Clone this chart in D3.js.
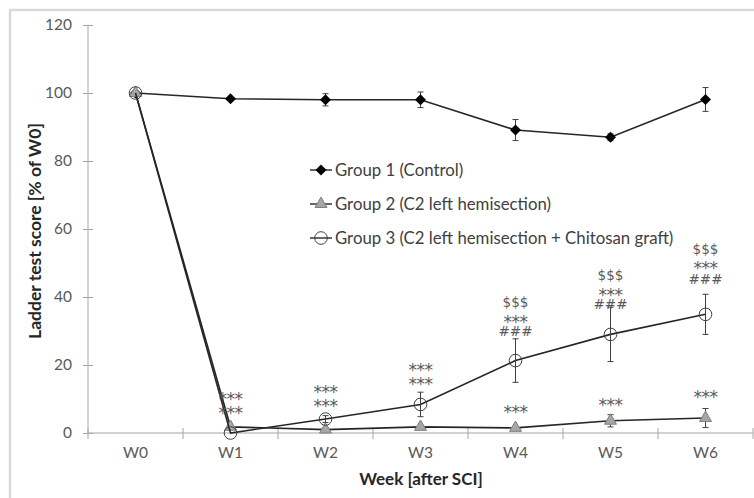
<!DOCTYPE html>
<html><head><meta charset="utf-8">
<script src="https://cdnjs.cloudflare.com/ajax/libs/d3/7.8.5/d3.min.js"></script>
<style>body{margin:0;background:#fff}svg{display:block}text{font-family:Lato,"Open Sans",sans-serif}</style>
</head><body><svg id="c" width="754" height="498"></svg>
<script>
const weeks = ["W0","W1","W2","W3","W4","W5","W6"];
const yTicks = [0,20,40,60,80,100,120];
const seriesNames = ["Group 1 (Control)","Group 2 (C2 left hemisection)","Group 3 (C2 left hemisection + Chitosan graft)"];
const group1 = [100, 98.3, 98.0, 98.0, 89.1, 87.0, 98.1];
const group1Err = [0, 0, 1.8, 2.3, 3.1, 1.0, 3.5];
const group2 = [100, 1.8, 1.0, 1.8, 1.5, 3.6, 4.4];
const group2Err = [0, 0, 0, 0, 0, 1.8, 2.8];
const group3 = [100, 0, 4.1, 8.4, 21.3, 29.0, 34.9];
const group3Err = [0, 0, 1.0, 3.6, 6.4, 8.0, 5.9];
const annoWeek = ["W1","W1","W2","W2","W3","W3","W4","W4","W4","W4","W5","W5","W5","W5","W6","W6","W6","W6"];
const annoText = ["***","***","***","***","***","***","$$$","***","###","***","$$$","***","###","***","$$$","***","###","***"];
const annoValue = [11.2,7.1,13.3,9.0,19.7,15.6,38.6,33.7,29.8,7.3,46.5,41.8,37.9,9.5,54.1,49.6,45.2,11.9];

const svg = d3.select("#c");
const x = d3.scaleBand().domain(weeks).range([88, 753]).paddingInner(0).paddingOuter(0);
const y = d3.scaleLinear().domain([0,120]).range([433, 25]);
const cx = w => x(w) + x.bandwidth()/2;

// outer frame
svg.append("rect").attr("x",10).attr("y",10).attr("width",760).attr("height",500)
  .attr("fill","none").attr("stroke","#d9d9d9").attr("stroke-width",2.5);

// y axis
const ya = svg.append("g").attr("transform","translate(88,0)")
  .call(d3.axisLeft(y).tickValues(yTicks).tickSize(5).tickPadding(11));
ya.select(".domain").attr("stroke","#a6a6a6").attr("d","M0,25V433");
ya.selectAll(".tick line").attr("stroke","#a6a6a6").attr("x1",5);
ya.selectAll(".tick text").attr("fill","#595959").style("font-size","15.5px").style("font-family","Lato");

// x axis
const xa = svg.append("g").attr("transform","translate(0,433)")
  .call(d3.axisBottom(x).tickSize(0).tickPadding(14));
xa.select(".domain").attr("stroke","#a6a6a6").attr("d","M88,0H753");
xa.selectAll(".tick text").attr("fill","#595959").style("font-size","15.5px").style("font-family","Lato");
const bounds = weeks.map(w => x(w)).concat([x(weeks[weeks.length-1]) + x.bandwidth()]);
svg.append("g").selectAll("line").data(bounds).join("line")
  .attr("x1",d=>d).attr("x2",d=>d).attr("y1",428).attr("y2",439).attr("stroke","#a6a6a6");

// axis titles
svg.append("text").attr("transform","translate(41,231) rotate(-90)").attr("text-anchor","middle")
  .style("font-size","17.5px").style("font-weight","bold").attr("fill","#262626").text("Ladder test score [% of W0]");
svg.append("text").attr("x",421).attr("y",485).attr("text-anchor","middle")
  .style("font-size","17px").style("font-weight","bold").attr("fill","#262626").text("Week [after SCI]");

const lineGen = d3.line().x((d,i)=>cx(weeks[i])).y(d=>y(d));
const seriesData = [
  {vals:group1, err:group1Err, type:"diamond"},
  {vals:group2, err:group2Err, type:"triangle"},
  {vals:group3, err:group3Err, type:"circle"}
];
const diamond = d3.symbol().type(d3.symbolSquare).size(60);
const triangle = d3.symbol().type(d3.symbolTriangle).size(62);
function drawMarker(g, type, px, py){
  if(type==="diamond") g.append("path").attr("d",diamond()).attr("transform",`translate(${px},${py}) rotate(45)`).attr("fill","#000");
  else if(type==="triangle") g.append("path").attr("d",triangle()).attr("transform",`translate(${px},${py})`).attr("fill","#a6a6a6").attr("stroke","#7f7f7f").attr("stroke-width",1);
  else g.append("circle").attr("cx",px).attr("cy",py).attr("r",6.3).attr("fill","none").attr("stroke","#404040").attr("stroke-width",1);
}
seriesData.forEach(s=>{
  const g = svg.append("g");
  g.append("path").attr("d",lineGen(s.vals)).attr("fill","none").attr("stroke","#262626").attr("stroke-width",1.6);
  s.vals.forEach((v,i)=>{
    const e = s.err[i];
    if(e>0){
      const px = cx(weeks[i]);
      g.append("line").attr("x1",px).attr("x2",px).attr("y1",y(v+e)).attr("y2",y(v-e)).attr("stroke","#404040").attr("stroke-width",1);
      [v+e,v-e].forEach(t=>g.append("line").attr("x1",px-3).attr("x2",px+3).attr("y1",y(t)).attr("y2",y(t)).attr("stroke","#404040").attr("stroke-width",1));
    }
  });
  s.vals.forEach((v,i)=>drawMarker(g, s.type, cx(weeks[i]), y(v)));
});

// annotations
svg.append("g").selectAll("text").data(annoText).join("text")
  .attr("x",(d,i)=>cx(annoWeek[i])).attr("y",(d,i)=>y(annoValue[i]) + (d==="***"?10:4.8))
  .attr("text-anchor","middle").attr("fill","#595959")
  .style("font-family","'DejaVu Sans'").style("font-size",d=>d==="***"?"17px":"13.5px")
  .style("letter-spacing",d=>d==="***"?"-0.5px":"0px").text(d=>d);

// legend
const lg = svg.append("g");
const legTypes = ["diamond","triangle","circle"];
seriesNames.forEach((n,i)=>{
  const ly = 170 + i*34;
  lg.append("line").attr("x1",310).attr("x2",332).attr("y1",ly).attr("y2",ly).attr("stroke","#262626").attr("stroke-width",1.4);
  drawMarker(lg, legTypes[i], 321, ly);
  lg.append("text").attr("x",335).attr("y",ly+6).attr("fill","#404040").style("font-size","16.8px").text(n);
});
</script></body></html>
